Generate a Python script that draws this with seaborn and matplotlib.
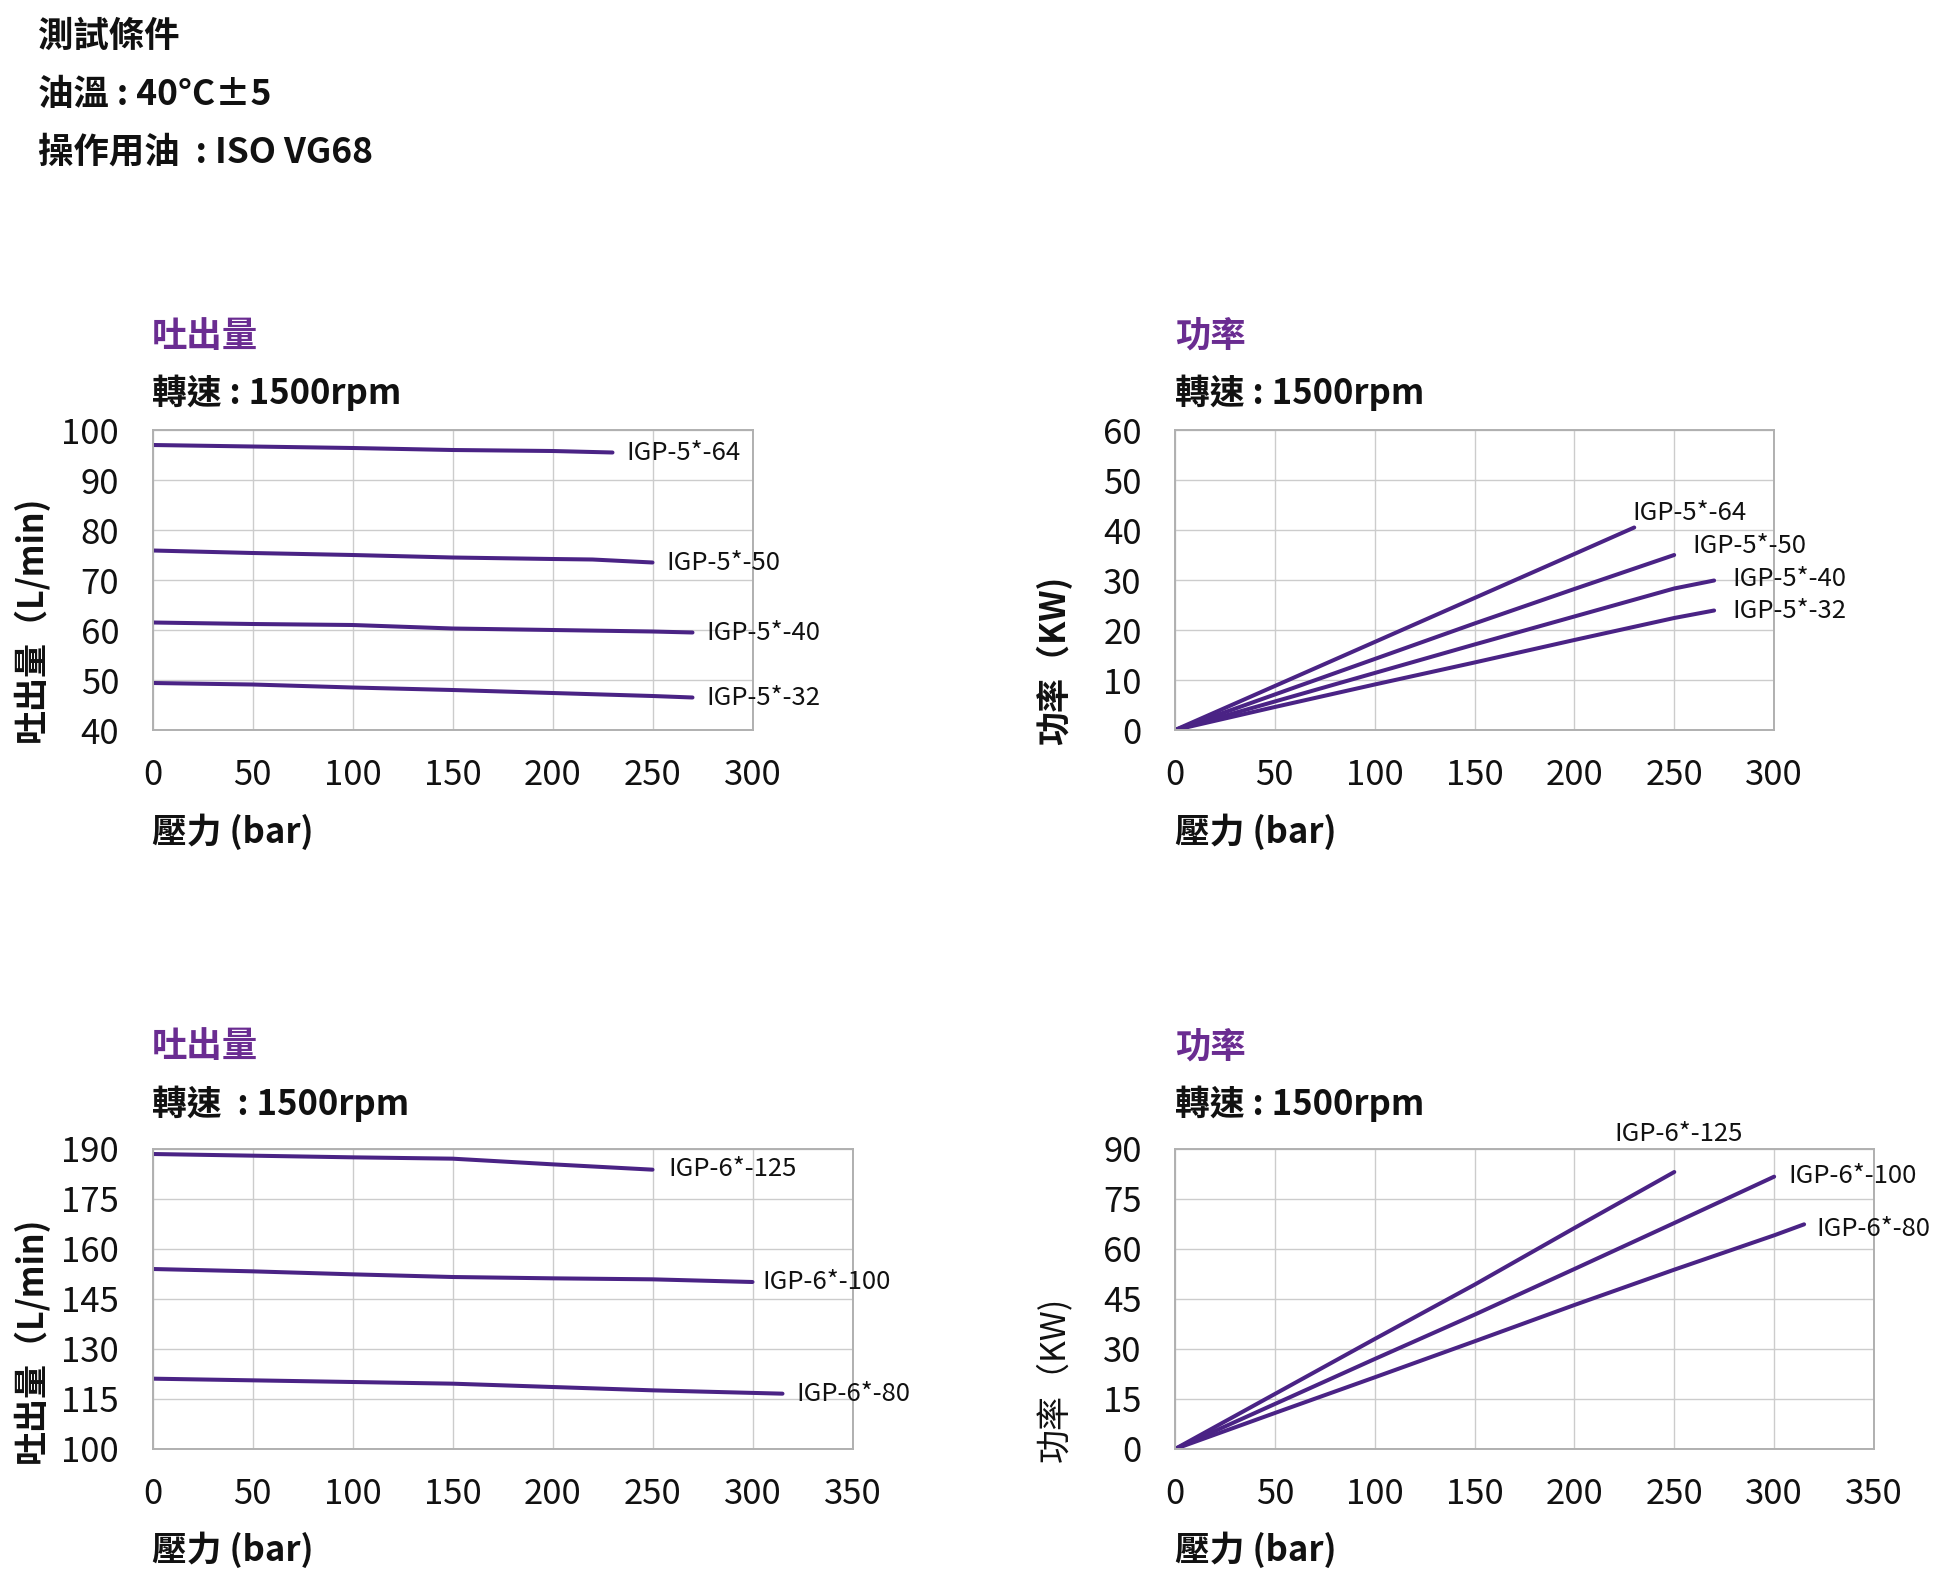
import matplotlib
matplotlib.use("Agg")
import matplotlib.pyplot as plt
import seaborn as sns
import pandas as pd

# ======================
# Data
# ======================
# flow (吐出量) - IGP-5 series
flow5_x = {
    "IGP-5*-64": [0, 50, 100, 150, 200, 230],
    "IGP-5*-50": [0, 50, 100, 150, 200, 220, 250],
    "IGP-5*-40": [0, 50, 100, 150, 200, 250, 270],
    "IGP-5*-32": [0, 50, 100, 150, 200, 250, 270],
}
flow5_y = {
    "IGP-5*-64": [97.0, 96.7, 96.4, 96.0, 95.8, 95.5],
    "IGP-5*-50": [75.9, 75.4, 75.0, 74.5, 74.2, 74.1, 73.5],
    "IGP-5*-40": [61.5, 61.2, 61.0, 60.3, 60.0, 59.7, 59.5],
    "IGP-5*-32": [49.4, 49.1, 48.5, 48.0, 47.4, 46.8, 46.5],
}
# power (功率) - IGP-5 series
power5_x = {
    "IGP-5*-64": [0, 50, 100, 150, 200, 230],
    "IGP-5*-50": [0, 50, 100, 150, 200, 250],
    "IGP-5*-40": [0, 50, 100, 150, 200, 250, 270],
    "IGP-5*-32": [0, 50, 100, 150, 200, 250, 270],
}
power5_y = {
    "IGP-5*-64": [0, 8.8, 17.6, 26.4, 35.2, 40.5],
    "IGP-5*-50": [0, 7.1, 14.2, 21.3, 28.2, 35.0],
    "IGP-5*-40": [0, 5.7, 11.4, 17.1, 22.7, 28.3, 29.9],
    "IGP-5*-32": [0, 4.6, 9.1, 13.5, 18.0, 22.4, 23.9],
}
# flow - IGP-6 series
flow6_x = {
    "IGP-6*-125": [0, 50, 100, 150, 200, 250],
    "IGP-6*-100": [0, 50, 100, 150, 200, 250, 300],
    "IGP-6*-80": [0, 50, 100, 150, 200, 250, 315],
}
flow6_y = {
    "IGP-6*-125": [188.5, 188.0, 187.5, 187.1, 185.4, 183.8],
    "IGP-6*-100": [154.0, 153.3, 152.4, 151.6, 151.2, 150.9, 150.1],
    "IGP-6*-80": [121.1, 120.6, 120.1, 119.6, 118.6, 117.6, 116.6],
}
# power - IGP-6 series
power6_x = {
    "IGP-6*-125": [0, 50, 100, 150, 200, 250],
    "IGP-6*-100": [0, 50, 100, 150, 200, 250, 300],
    "IGP-6*-80": [0, 50, 100, 150, 200, 250, 300, 315],
}
power6_y = {
    "IGP-6*-125": [0, 16.5, 33.0, 49.3, 66.3, 83.1],
    "IGP-6*-100": [0, 13.5, 27.0, 40.3, 54.0, 67.8, 81.7],
    "IGP-6*-80": [0, 10.8, 21.5, 32.3, 43.2, 53.8, 64.1, 67.4],
}

# label anchor (x, y) for each curve
flow5_lab = {"IGP-5*-64": (237, 95.5), "IGP-5*-50": (257, 73.5),
             "IGP-5*-40": (277, 59.5), "IGP-5*-32": (277, 46.5)}
power5_lab = {"IGP-5*-64": (229, 43.3), "IGP-5*-50": (259, 36.8),
              "IGP-5*-40": (279, 30.3), "IGP-5*-32": (279, 23.8)}
flow6_lab = {"IGP-6*-125": (258, 184.0), "IGP-6*-100": (305, 150.0),
             "IGP-6*-80": (322, 116.6)}
power6_lab = {"IGP-6*-125": (220, 94.5), "IGP-6*-100": (307, 81.8),
              "IGP-6*-80": (321, 66.0)}

header_lines = ["測試條件", "油溫 : 40°C±5", "操作用油  : ISO VG68"]

# ======================
# Style
# ======================
sns.set_theme(style="white")
plt.rcParams["font.family"] = ["Noto Sans CJK TC", "DejaVu Sans"]

W, H = 1960, 1588
LINE = "#4a2385"
PURPLE = "#6a2c91"
GRID = "#cccccc"

fig = plt.figure(figsize=(W / 100, H / 100), dpi=100)
fig.patch.set_facecolor("white")


def px(x, y):
    return x / W, 1 - y / H


def add_axes(left, top, right, bottom):
    return fig.add_axes([left / W, 1 - bottom / H, (right - left) / W, (bottom - top) / H])


def draw_panel(ax, xs, ys, labs, xlim, ylim, xticks, yticks):
    rows = []
    for name in xs:
        for xv, yv in zip(xs[name], ys[name]):
            rows.append({"p": xv, "v": yv, "model": name})
    df = pd.DataFrame(rows)
    sns.lineplot(data=df, x="p", y="v", units="model", estimator=None,
                 color=LINE, linewidth=2.9, ax=ax, legend=False, sort=False)
    for name, (lx, ly) in labs.items():
        ax.text(lx, ly, name, fontsize=18.5, ha="left", va="center",
                color="#111111", clip_on=False)
    ax.set_xlim(*xlim)
    ax.set_ylim(*ylim)
    ax.set_xticks(xticks)
    ax.set_yticks(yticks)
    ax.grid(True, color=GRID, linewidth=1.0)
    for s in ax.spines.values():
        s.set_color("#b0b0b0")
        s.set_linewidth(1.4)
    ax.tick_params(axis="x", length=0, pad=20, labelsize=25, labelcolor="#111111")
    ax.tick_params(axis="y", length=0, pad=24, labelsize=25, labelcolor="#111111")
    ax.set_xlabel("")
    ax.set_ylabel("")


# header
for i, t in enumerate(header_lines):
    fig.text(*px(38, 36 + i * 58), t, fontsize=25.5, fontweight="bold",
             ha="left", va="center", color="#111111")

# top-left: flow IGP-5
ax1 = add_axes(152.5, 430, 752.5, 730)
draw_panel(ax1, flow5_x, flow5_y, flow5_lab, (0, 300), (40, 100),
           range(0, 301, 50), range(40, 101, 10))
# top-right: power IGP-5
ax2 = add_axes(1175, 430, 1774, 730)
draw_panel(ax2, power5_x, power5_y, power5_lab, (0, 300), (0, 60),
           range(0, 301, 50), range(0, 61, 10))
# bottom-left: flow IGP-6
ax3 = add_axes(152.5, 1149, 852.5, 1449)
draw_panel(ax3, flow6_x, flow6_y, flow6_lab, (0, 350), (100, 190),
           range(0, 351, 50), range(100, 191, 15))
# bottom-right: power IGP-6
ax4 = add_axes(1175, 1149, 1874, 1449)
draw_panel(ax4, power6_x, power6_y, power6_lab, (0, 350), (0, 90),
           range(0, 351, 50), range(0, 91, 15))

# panel titles and subtitles
for (x0, y0), title, sub in [((152, 336), "吐出量", "轉速 : 1500rpm"),
                             ((1175, 336), "功率", "轉速 : 1500rpm"),
                             ((152, 1047), "吐出量", "轉速  : 1500rpm"),
                             ((1175, 1047), "功率", "轉速 : 1500rpm")]:
    fig.text(*px(x0, y0), title, fontsize=25.5, fontweight="bold",
             color=PURPLE, ha="left", va="center")
    fig.text(*px(x0, y0 + 57), sub, fontsize=25, fontweight="bold",
             color="#111111", ha="left", va="center")

# x labels
for x0, y0 in [(152, 832), (1175, 832), (152, 1550), (1175, 1550)]:
    fig.text(*px(x0, y0), "壓力 (bar)", fontsize=25, fontweight="bold",
             color="#111111", ha="left", va="center")

# y labels
fig.text(*px(31, 619), "吐出量（L/min)", fontsize=24.5, fontweight="bold",
         rotation=90, ha="center", va="center", color="#111111")
fig.text(*px(31, 1340), "吐出量（L/min)", fontsize=24.5, fontweight="bold",
         rotation=90, ha="center", va="center", color="#111111")
fig.text(*px(1054, 660), "功率（KW)", fontsize=24.5, fontweight="bold",
         rotation=90, ha="center", va="center", color="#111111")
fig.text(*px(1054, 1379), "功率（KW)", fontsize=24.5,
         rotation=90, ha="center", va="center", color="#111111")

fig.savefig("out.png", dpi=100, facecolor="white")
plt.close(fig)
